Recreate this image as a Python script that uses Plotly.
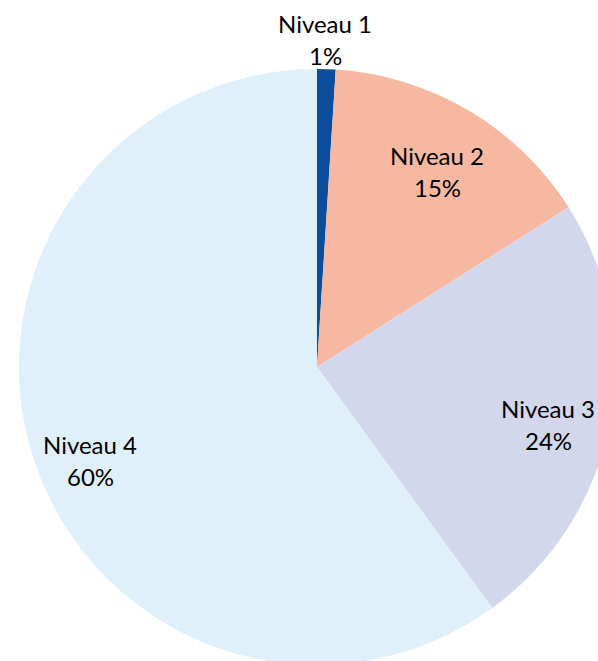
import math
import plotly.graph_objects as go

labels = ["Niveau 1", "Niveau 2", "Niveau 3", "Niveau 4"]
values = [1, 15, 24, 60]
colors = ["#0B4C9C", "#F6B8A0", "#D3D7EC", "#E0F0FB"]
label_radius = [1.10, 0.77, 0.80, 0.823]
label_angle_offset = [-0.4, 1.0, 3.2, -4.3]  # degrees, label placement tweak

W, H = 640, 740
CX, CY, R = 317, 367, 298  # pie centre/radius in pixels (from top-left)

dom_x = [(CX - R) / W, (CX + R) / W]
dom_y = [(H - CY - R) / H, (H - CY + R) / H]

fig = go.Figure(go.Pie(
    labels=labels, values=values, sort=False, direction="clockwise",
    rotation=0, marker=dict(colors=colors, line=dict(width=0)),
    textinfo="none", hoverinfo="label+percent", showlegend=False,
    domain=dict(x=dom_x, y=dom_y),
))

font = dict(family="Lato, Liberation Sans, sans-serif", size=24, color="#000000")
total = sum(values)
cum = 0
annotations = []
for lab, v, rf, off in zip(labels, values, label_radius, label_angle_offset):
    mid = (cum + v / 2) / total * 2 * math.pi + math.radians(off)
    cum += v
    px = CX + rf * R * math.sin(mid)
    py = CY - rf * R * math.cos(mid)
    pct = round(v / total * 100)
    for txt, shift in ((lab, 16), (f"{pct}%", -16)):
        annotations.append(dict(
            x=px / W, y=(H - py) / H, xref="paper", yref="paper",
            text=txt, showarrow=False, yshift=shift,
            xanchor="center", yanchor="middle", font=font,
        ))

fig.update_layout(
    width=W, height=H, margin=dict(l=0, r=0, t=0, b=0),
    paper_bgcolor="white", plot_bgcolor="white",
    annotations=annotations,
)

fig.write_html(
    "out.html",
    config={"displayModeBar": False},
    post_script="document.body.style.margin='0';document.body.style.overflow='hidden';",
)
